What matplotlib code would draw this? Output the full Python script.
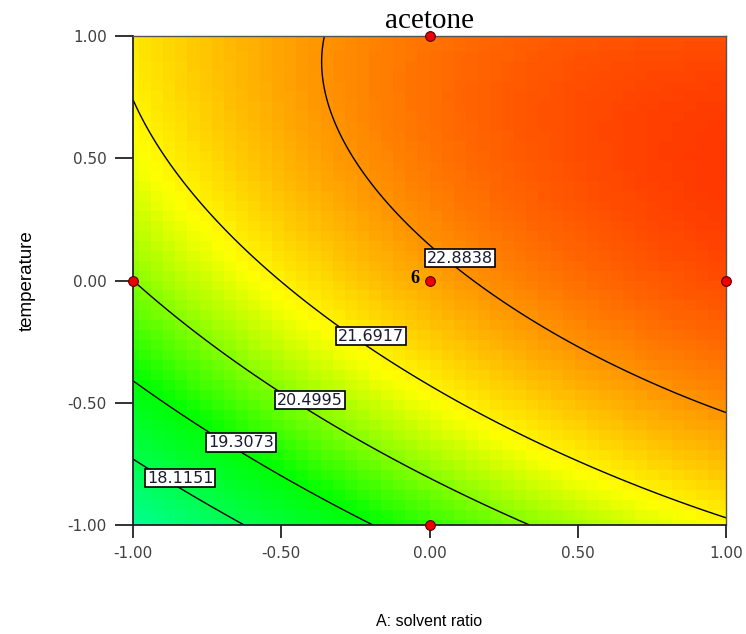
import numpy as np
import matplotlib
matplotlib.use("Agg")
import matplotlib.pyplot as plt
from matplotlib.colors import LinearSegmentedColormap, Normalize

# quadratic model in coded units: b0, A, B, AB, A^2, B^2
COEF_B0 = 22.6522
COEF_A = 1.6462
COEF_B = 1.7586
COEF_AB = -0.6852
COEF_A2 = -0.5076
COEF_B2 = -1.1228

LEVELS = [18.1151, 19.3073, 20.4995, 21.6917, 22.8838]
# where each contour label sits (A, B)
LABEL_POS = [(-0.841, -0.808), (-0.636, -0.661), (-0.403, -0.489),
             (-0.197, -0.227), (0.103, 0.092)]

# design points
DESIGN_A = [0.0, -1.0, 0.0, 1.0, 0.0]
DESIGN_B = [1.0, 0.0, 0.0, 0.0, -1.0]
CENTER_RUNS = "6"

TICKS = [-1.0, -0.5, 0.0, 0.5, 1.0]
TICK_LABELS = ["-1.00", "-0.50", "0.00", "0.50", "1.00"]

# colour ramp stops: response value -> colour
RAMP_VALUES = [15.2, 19.37, 21.55, 24.75]
RAMP_COLORS = [(0, 1, 1), (0, 1, 0), (1, 1, 0), (1, 0, 0)]


def response(a, b):
    return (COEF_B0 + COEF_A * a + COEF_B * b + COEF_AB * a * b
            + COEF_A2 * a ** 2 + COEF_B2 * b ** 2)


lo, hi = RAMP_VALUES[0], RAMP_VALUES[-1]
cmap = LinearSegmentedColormap.from_list(
    "ramp", [((v - lo) / (hi - lo), c) for v, c in zip(RAMP_VALUES, RAMP_COLORS)])
norm = Normalize(lo, hi)

# coarse grid for the shaded surface, fine grid for the contour lines
g = np.linspace(-1, 1, 50)
AA, BB = np.meshgrid(g, g)
f = np.linspace(-1, 1, 301)
FA, FB = np.meshgrid(f, f)

fig = plt.figure(figsize=(7.46, 6.34), dpi=100)
ax = fig.add_axes([0.1783, 0.1719, 0.7949, 0.7713])
ax.pcolormesh(AA, BB, response(AA, BB), cmap=cmap, norm=norm, shading="nearest")
ax.contour(FA, FB, response(FA, FB), levels=LEVELS, colors="black", linewidths=1.0)

for lev, (la, lb) in zip(LEVELS, LABEL_POS):
    ax.text(la, lb, f"{lev:.4f}", fontsize=11.5, family="DejaVu Sans",
            color="#1a1a33", ha="center", va="center", zorder=6,
            bbox=dict(boxstyle="square,pad=0.12", fc="white", ec="black", lw=1.2))

ax.plot(DESIGN_A, DESIGN_B, "o", ms=7, mfc="#ee0000", mec="#550000", mew=0.8,
        clip_on=False, zorder=7)
ax.text(-0.035, 0.008, CENTER_RUNS, fontsize=13, family="Liberation Serif",
        weight="bold", ha="right", va="center", zorder=7)

ax.set_xlim(-1, 1)
ax.set_ylim(-1, 1)
ax.set_xticks(TICKS)
ax.set_xticklabels(TICK_LABELS)
ax.set_yticks(TICKS)
ax.set_yticklabels(TICK_LABELS)
ax.tick_params(axis="y", length=13, width=1.3, pad=6, labelsize=11,
               labelcolor="#404040", color="#222222")
ax.tick_params(axis="x", length=9, width=1.3, pad=6, labelsize=11,
               labelcolor="#404040", color="#222222")
for lab in ax.get_xticklabels() + ax.get_yticklabels():
    lab.set_family("DejaVu Sans")
for side in ["left", "bottom"]:
    ax.spines[side].set_linewidth(1.3)
    ax.spines[side].set_color("#222222")
for side in ["top", "right"]:
    ax.spines[side].set_linewidth(1.0)
    ax.spines[side].set_color("#555555")

ax.set_title("acetone", fontsize=21, family="Liberation Serif", pad=6)
ax.set_xlabel("A: solvent ratio", fontsize=11.5, family="Liberation Sans",
              labelpad=38)
ax.set_ylabel("temperature", fontsize=13.5, family="Liberation Sans",
              labelpad=23)

fig.savefig("out.png")
